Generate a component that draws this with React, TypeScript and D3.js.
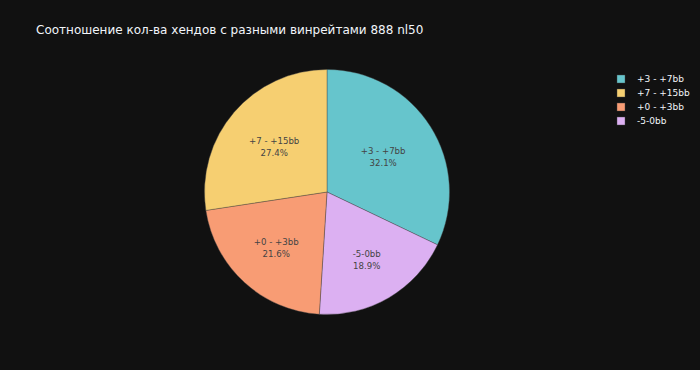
import React from "react";
import * as d3 from "d3";

const labels = ["+3 - +7bb", "-5-0bb", "+0 - +3bb", "+7 - +15bb"];
const values = [32.1, 18.9, 21.6, 27.4];
const colors = ["#66C5CC", "#DCB0F2", "#F89C74", "#F6CF71"];
const legendOrder = ["+3 - +7bb", "+7 - +15bb", "+0 - +3bb", "-5-0bb"];
const title = "Соотношение кол-ва хендов с разными винрейтами 888 nl50";

const W = 700;
const H = 370;
const FONT = "Verdana, 'DejaVu Sans', sans-serif";

export default function App() {
  const cx = 327;
  const cy = 192;
  const R = 122.5;
  const total = d3.sum(values);
  const pie = d3.pie<number>().sort(null).value((d) => d)(values);
  const arc = d3.arc<d3.PieArcDatum<number>>().innerRadius(0).outerRadius(R);

  return (
    <div style={{ position: "fixed", left: 0, top: 0, width: W, height: H }}>
      <svg width={W} height={H} style={{ display: "block" }}>
        <rect x={0} y={0} width={W} height={H} fill="#111111" />
        <text x={36} y={33.5} fill="#f2f5fa" fontFamily={FONT} fontSize={12}>
          {title}
        </text>
        <g transform={`translate(${cx},${cy})`}>
          {pie.map((p, i) => (
            <path key={i} d={arc(p) || ""} fill={colors[i]} stroke="#444" strokeWidth={0.4} />
          ))}
          {pie.map((p, i) => {
            const frac = values[i] / total;
            const half = Math.PI * Math.min(frac, 0.5);
            const rIns = Math.min(1 / (1 + 1 / Math.sin(half)), 0.5);
            const rc = (1 - rIns) * R;
            const mid = (p.startAngle + p.endAngle) / 2;
            const x = rc * Math.sin(mid);
            const y = -rc * Math.cos(mid);
            const pct = d3.format(".1f")((values[i] / total) * 100) + "%";
            return (
              <text key={i} x={x} y={y} fill="#444" fontFamily={FONT} fontSize={8.6} textAnchor="middle">
                <tspan x={x} dy={-2.5}>{labels[i]}</tspan>
                <tspan x={x} dy={11.5}>{pct}</tspan>
              </text>
            );
          })}
        </g>
        <g>
          {legendOrder.map((l, i) => {
            const idx = labels.indexOf(l);
            const y = 79 + i * 14;
            return (
              <g key={l}>
                <rect x={617} y={y - 4} width={8} height={8} fill={colors[idx]} stroke="#444" strokeWidth={0.4} />
                <text x={637} y={y + 3.3} fill="#f2f5fa" fontFamily={FONT} fontSize={9}>
                  {l}
                </text>
              </g>
            );
          })}
        </g>
      </svg>
    </div>
  );
}
